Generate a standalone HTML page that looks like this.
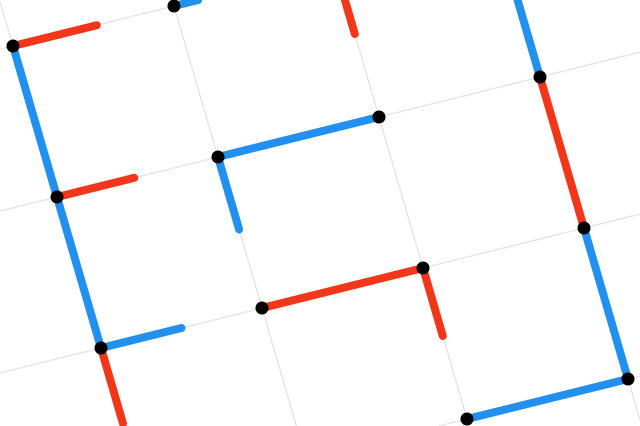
<!DOCTYPE html>
<html><head><meta charset="utf-8"><style>
html,body{margin:0;padding:0;background:#fff;width:640px;height:426px;overflow:hidden}
svg{display:block;overflow:hidden}
</style></head><body>
<svg id="chart" width="640" height="426" viewBox="0 0 640 426" xmlns="http://www.w3.org/2000/svg" overflow="hidden">
<g id="grid"></g>
<g id="segs"></g>
<g id="dots"></g>
</svg>
<script>
// lattice nodes (column i, row j)
const nodeI = [0,1,0,1,2,3,0,1,2,3,3,2];
const nodeJ = [0,0,1,1,1,1,2,2,2,2,3,3];
// segments: start node (i,j), direction ('u' along row, 'v' down column), length fraction, colour
const segI   = [0,1,2,3,0,0,1,1,3,0,0,0,1,2,3,2];
const segJ   = [0,0,0,0,0,1,1,1,1,1,2,2,2,2,2,3];
const segDir = ['u','u','v','v','v','u','u','v','v','v','u','v','u','v','v','u'];
const segLen = [0.52,0.3,0.45,1,1,0.48,1,0.48,1,1,0.5,0.5,1,0.45,1,1];
const segCol = ['r','b','r','b','b','r','b','b','r','b','b','r','r','r','b','b'];

const O=[13,46], U=[161,-40], V=[44,151];
function px(i,j){return [O[0]+i*U[0]+j*V[0], O[1]+i*U[1]+j*V[1]];}
// Liang-Barsky clip to rect
function clip(a,b,x0,y0,x1,y1){
 let t0=0,t1=1;const dx=b[0]-a[0],dy=b[1]-a[1];
 const p=[-dx,dx,-dy,dy],q=[a[0]-x0,x1-a[0],a[1]-y0,y1-a[1]];
 for(let k=0;k<4;k++){
  if(p[k]===0){if(q[k]<0)return null;}
  else{const r=q[k]/p[k];if(p[k]<0){if(r>t1)return null;if(r>t0)t0=r;}else{if(r<t0)return null;if(r<t1)t1=r;}}
 }
 return [[a[0]+t0*dx,a[1]+t0*dy],[a[0]+t1*dx,a[1]+t1*dy]];
}
const NS='http://www.w3.org/2000/svg';
function mk(tag,attrs,parent){const e=document.createElementNS(NS,tag);for(const k in attrs)e.setAttribute(k,attrs[k]);parent.appendChild(e);return e;}
const grid=document.getElementById('grid'), segs=document.getElementById('segs'), dots=document.getElementById('dots');
function gridLine(a,b,name){
 const c=clip(a,b,0,0,640,426);if(!c)return;
 const l=mk('line',{x1:c[0][0],y1:c[0][1],x2:c[1][0],y2:c[1][1],stroke:'#e2e2e2','stroke-width':1.2},grid);
 
 
}
for(let j=-2;j<=5;j++){gridLine(px(-2,j),px(6,j),'grid-row-line');}
for(let i=-2;i<=6;i++){gridLine(px(i,-2),px(i,5),'grid-column-line');}
for(let k=0;k<segI.length;k++){
 const a=px(segI[k],segJ[k]);
 const b=segDir[k]==='u'?px(segI[k]+segLen[k],segJ[k]):px(segI[k],segJ[k]+segLen[k]);
 const c=clip(a,b,0,0,640,426);if(!c)continue;
 const l=mk('line',{x1:c[0][0],y1:c[0][1],x2:c[1][0],y2:c[1][1],stroke:segCol[k]==='r'?'#f2361a':'#2190ee','stroke-width':8,'stroke-linecap':'round'},segs);
 
 }
for(let k=0;k<nodeI.length;k++){const p=px(nodeI[k],nodeJ[k]);
 const c=mk('circle',{cx:p[0],cy:p[1],r:6.5,fill:'#000'},dots);
 
 }
</script>
</body></html>
